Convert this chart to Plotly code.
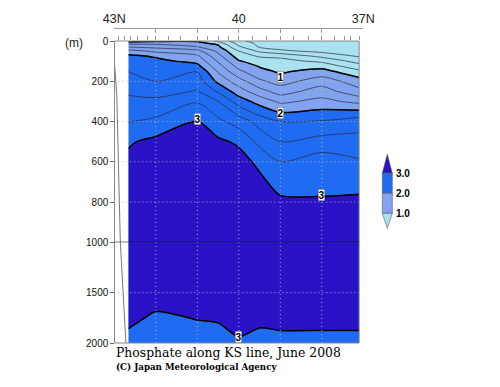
import numpy as np
import plotly.graph_objects as go

W, H = 500, 387

# ---------------- data ----------------
lats = [42.66, 42.0, 41.0, 40.5, 40.0, 39.5, 39.0, 38.0, 37.1]
depths = [0, 10, 20, 30, 50, 75, 100, 125, 150, 200, 250, 300, 400, 500,
          600, 700, 800, 1000, 1250, 1500, 1750, 2000]

po4_42_66 = [0.90, 1.12, 1.33, 1.50, 1.85, 2.06, 2.12, 2.18, 2.245, 2.35, 2.46, 2.56, 2.74, 2.97,
             3.06, 3.09, 3.12, 3.15, 3.13, 3.09, 3.03, 2.96]
po4_42_00 = [0.95, 1.15, 1.30, 1.44, 1.69, 1.97, 2.06, 2.10, 2.14, 2.24, 2.40, 2.56, 2.80, 3.07,
             3.09, 3.11, 3.12, 3.14, 3.12, 3.06, 2.98, 2.93]
po4_41_00 = [0.95, 1.10, 1.18, 1.27, 1.58, 1.80, 1.93, 2.07, 2.24, 2.37, 2.52, 2.73, 3.01, 3.10,
             3.12, 3.13, 3.14, 3.15, 3.12, 3.06, 3.005, 2.95]
po4_40_50 = [0.70, 0.85, 1.00, 1.06, 1.19, 1.33, 1.47, 1.60, 1.72, 1.94, 2.22, 2.50, 2.81, 3.05,
             3.10, 3.12, 3.13, 3.15, 3.12, 3.07, 3.01, 2.96]
po4_40_00 = [0.30, 0.40, 0.46, 0.55, 0.75, 0.88, 1.02, 1.16, 1.30, 1.61, 1.87, 2.13, 2.64, 2.96,
             3.10, 3.12, 3.13, 3.14, 3.12, 3.08, 3.03, 2.99]
po4_39_50 = [0.15, 0.18, 0.20, 0.23, 0.45, 0.72, 0.88, 0.98, 1.07, 1.30, 1.60, 1.90, 2.40, 2.68,
             2.94, 3.06, 3.10, 3.13, 3.12, 3.08, 3.02, 2.97]
po4_39_00 = [0.10, 0.11, 0.12, 0.15, 0.30, 0.70, 0.82, 0.88, 0.96, 1.15, 1.39, 1.70, 2.25, 2.50,
             2.75, 2.90, 3.05, 3.12, 3.11, 3.08, 3.03, 2.97]
po4_38_00 = [0.08, 0.09, 0.10, 0.12, 0.18, 0.43, 0.70, 0.90, 1.09, 1.38, 1.62, 1.82, 2.27, 2.60,
             2.88, 2.95, 3.02, 3.10, 3.10, 3.08, 3.03, 2.97]
po4_37_10 = [0.05, 0.06, 0.07, 0.08, 0.12, 0.22, 0.40, 0.60, 0.80, 1.12, 1.32, 1.68, 2.40, 2.58,
             2.78, 2.92, 3.05, 3.10, 3.10, 3.08, 3.03, 2.97]

stations = [42.9, 42.75, 42.6, 42.45, 42.2, 42.0, 41.7, 41.4, 41.0, 40.75, 40.5, 40.25,
            40.0, 39.67, 39.33, 39.0, 38.67, 38.33, 38.0, 37.7, 37.45, 37.3, 37.1]

bottom_lat = [43.02, 42.94, 42.86, 42.72]
bottom_depth = [45, 268, 954, 2000]

level_labels = ["1", "2", "3", "3", "3"]
label_lat = [39.0, 39.0, 41.0, 38.0, 40.0]
label_depth = [177, 356, 389, 765, 1937]

cbar_ticks = ["3.0", "2.0", "1.0"]

c_cyan = "#abe2f0"
c_light = "#82a4ee"
c_bright = "#1f6cf2"
c_dark = "#2a12c6"

z = np.column_stack([po4_42_66, po4_42_00, po4_41_00, po4_40_50, po4_40_00,
                     po4_39_50, po4_39_00, po4_38_00, po4_37_10])

def fx(px):
    return px / W

def fy(py):
    return 1 - py / H

step_scale = [[0, c_cyan], [0.25, c_cyan], [0.25, c_light], [0.5, c_light],
              [0.5, c_bright], [0.75, c_bright], [0.75, c_dark], [1, c_dark]]

fig = go.Figure()
for ya in ["y", "y2"]:
    fig.add_trace(go.Contour(x=lats, y=depths, z=z, xaxis="x", yaxis=ya,
                             colorscale=step_scale, showscale=False,
                             contours=dict(start=1, end=3, size=1, coloring="fill"),
                             line=dict(width=0, smoothing=0.8), hoverinfo="skip"))
    fig.add_trace(go.Contour(x=lats, y=depths, z=z, xaxis="x", yaxis=ya,
                             showscale=False,
                             contours=dict(start=0.25, end=3.0, size=0.25, coloring="none"),
                             line=dict(width=0.7, color="#2a2a3a", smoothing=0.8),
                             hoverinfo="skip"))
    fig.add_trace(go.Contour(x=lats, y=depths, z=z, xaxis="x", yaxis=ya,
                             showscale=False,
                             contours=dict(start=1, end=3, size=1, coloring="none"),
                             line=dict(width=1.5, color="black", smoothing=0.8),
                             hoverinfo="skip"))
    fig.add_trace(go.Scatter(x=bottom_lat, y=bottom_depth, xaxis="x", yaxis=ya,
                             mode="lines", line=dict(color="#777", width=1),
                             hoverinfo="skip", showlegend=False))

# station tick carrier
fig.add_trace(go.Scatter(x=stations, y=[0] * len(stations), xaxis="x3", yaxis="y",
                         mode="markers", marker=dict(opacity=0), hoverinfo="skip",
                         showlegend=False))

x_dom = [fx(114.3), fx(363.3)]
tickfont_small = dict(family="Liberation Sans, Arial", size=10, color="#111")

fig.update_layout(
    width=W, height=H, margin=dict(l=0, r=0, t=0, b=0, autoexpand=False),
    paper_bgcolor="white", plot_bgcolor="white", showlegend=False,
    xaxis=dict(range=[43, 37], domain=x_dom, side="top", anchor="free",
               position=fy(27.5), showline=True, linecolor="#999", linewidth=1,
               ticks="inside", ticklen=4, tickcolor="#999", automargin=False,
               tickvals=[43, 42, 41, 40, 39, 38, 37],
               ticktext=["43N", "", "", "40", "", "", "37N"],
               tickfont=dict(family="Liberation Sans, Arial", size=12.5, color="#222"),
               showgrid=False, zeroline=False),
    xaxis3=dict(range=[43, 37], overlaying="x", side="top", anchor="y", automargin=False,
                ticks="outside", ticklen=4, tickcolor="#999", tickvals=stations,
                showticklabels=False, showline=False, showgrid=False, zeroline=False),
    yaxis=dict(range=[1000, 0], domain=[fy(242.3), fy(41)], anchor="free",
               position=fx(114.3), showline=True, linecolor="#888", linewidth=1,
               ticks="outside", ticklen=4, tickcolor="#666", automargin=False,
               tickvals=[0, 200, 400, 600, 800, 1000],
               tickfont=tickfont_small, showgrid=False, zeroline=False),
    yaxis2=dict(range=[2000, 1000], domain=[fy(343), fy(242.3)], anchor="free",
                position=fx(114.3), showline=True, linecolor="#888", linewidth=1,
                ticks="outside", ticklen=4, tickcolor="#666", automargin=False,
                tickvals=[1500, 2000],
                tickfont=tickfont_small, showgrid=False, zeroline=False),
)

shapes = []
grid_style = dict(color="rgba(190,190,190,0.9)", width=1, dash="1px,3px")
for d in [200, 400, 600, 800]:
    shapes.append(dict(type="line", xref="x", yref="y", x0=43, x1=37.1, y0=d, y1=d,
                       line=grid_style, layer="above"))
shapes.append(dict(type="line", xref="x", yref="y2", x0=43, x1=37.1, y0=1500, y1=1500,
                   line=grid_style, layer="above"))
for la in [42, 41, 40, 39, 38]:
    shapes.append(dict(type="line", xref="x", yref="paper", x0=la, x1=la,
                       y0=fy(343), y1=fy(41), line=grid_style, layer="above"))
# frame
shapes.append(dict(type="rect", xref="x", yref="paper", x0=43, x1=37.1,
                   y0=fy(343), y1=fy(41), line=dict(color="#888", width=1),
                   fillcolor="rgba(0,0,0,0)", layer="above"))
# 1000 m break line
shapes.append(dict(type="line", xref="x", yref="y", x0=43, x1=37.1, y0=1000, y1=1000,
                   line=dict(color="black", width=1.2), layer="above"))

# colour bar
cx0, cx1, cxm = fx(382.3), fx(392.3), fx(387.3)
yt, y3, y2, y1, yb = fy(154.3), fy(173.3), fy(193.3), fy(213.3), fy(228.3)
cb_line = dict(color="#555", width=0.6)
shapes.append(dict(type="path", xref="paper", yref="paper",
                   path=f"M {cx0},{y3} L {cx1},{y3} L {cxm},{yt} Z",
                   fillcolor=c_dark, line=cb_line))
shapes.append(dict(type="rect", xref="paper", yref="paper", x0=cx0, x1=cx1, y0=y2, y1=y3,
                   fillcolor=c_bright, line=cb_line))
shapes.append(dict(type="rect", xref="paper", yref="paper", x0=cx0, x1=cx1, y0=y1, y1=y2,
                   fillcolor=c_light, line=cb_line))
shapes.append(dict(type="path", xref="paper", yref="paper",
                   path=f"M {cx0},{y1} L {cx1},{y1} L {cxm},{yb} Z",
                   fillcolor=c_cyan, line=cb_line))
fig.update_layout(shapes=shapes)

ann = []
for t, yy in zip(cbar_ticks, [y3, y2, y1]):
    ann.append(dict(xref="paper", yref="paper", x=fx(393.5), y=yy, text=f"<b>{t}</b>",
                    showarrow=False, xanchor="left", yanchor="middle",
                    font=dict(family="Liberation Sans, Arial", size=10, color="black")))
for t, la, d in zip(level_labels, label_lat, label_depth):
    ann.append(dict(xref="x", yref="y" if d <= 1000 else "y2", x=la, y=d,
                    text=f"<b>{t}</b>", showarrow=False,
                    font=dict(family="Liberation Sans, Arial", size=10, color="black"),
                    bgcolor="white", bordercolor="#666", borderwidth=0.5, borderpad=0))
ann.append(dict(xref="paper", yref="paper", x=fx(63), y=fy(42.7), text="(m)",
                showarrow=False, xanchor="left", yanchor="middle",
                font=dict(family="Liberation Sans, Arial", size=12, color="#222")))
ann.append(dict(xref="paper", yref="paper", x=fx(114), y=fy(352.5), text="Phosphate along KS line, June 2008",
                showarrow=False, xanchor="left", yanchor="middle",
                font=dict(family="DejaVu Serif", size=12.4, color="black")))
ann.append(dict(xref="paper", yref="paper", x=fx(114), y=fy(366.5), text="<b>(C) Japan Meteorological Agency</b>",
                showarrow=False, xanchor="left", yanchor="middle",
                font=dict(family="DejaVu Serif", size=8.7, color="black")))
fig.update_layout(annotations=ann)

fig.write_html("out.html", config={"displayModeBar": False, "staticPlot": True},
               post_script="document.body.style.margin='0';document.body.style.padding='0';")
